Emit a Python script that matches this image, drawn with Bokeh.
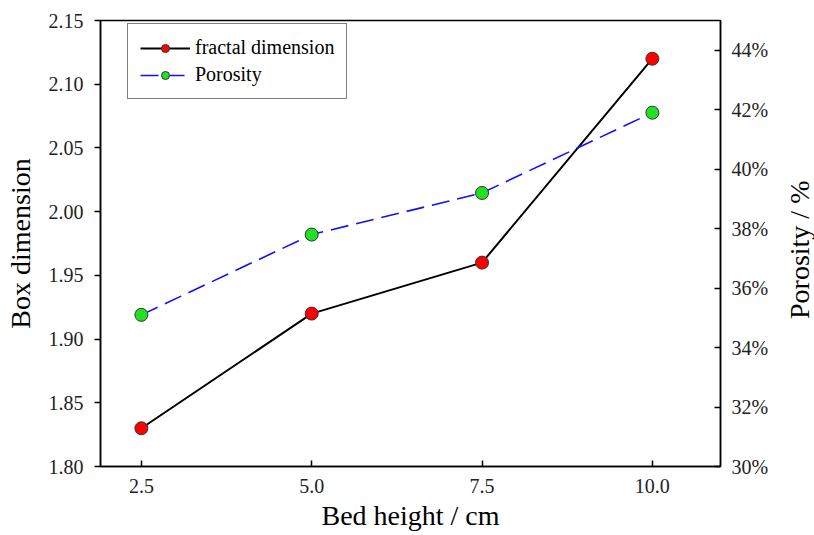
from bokeh.plotting import figure
from bokeh.layouts import row
from bokeh.models import (Range1d, LinearAxis, FixedTicker, PrintfTickFormatter,
                          NumeralTickFormatter, Grid, Legend, LegendItem, Div)
from bokeh.embed import file_html
from bokeh.resources import INLINE

bed_height = [2.5, 5.0, 7.5, 10.0]
fractal_dim = [1.83, 1.92, 1.96, 2.12]
porosity = [35.1, 37.8, 39.2, 41.9]
x_ticks = [2.5, 5.0, 7.5, 10.0]
left_ticks = [1.80, 1.85, 1.90, 1.95, 2.00, 2.05, 2.10, 2.15]
right_ticks = [30, 32, 34, 36, 38, 40, 42, 44]

FONT = "Liberation Serif"

p = figure(width=786, height=535, output_backend="svg", toolbar_location=None,
           x_range=Range1d(1.9, 11.0), y_range=Range1d(1.80, 2.15),
           min_border_left=100, min_border_right=66, min_border_top=20,
           min_border_bottom=69, background_fill_color="white",
           border_fill_color="white", margin=0)
p.outline_line_color = "black"
p.outline_line_width = 1.5
p.extra_y_ranges = {"poro": Range1d(30, 45)}

p.xgrid.visible = False
p.ygrid.visible = False

# bottom axis
xa = p.xaxis[0]
xa.ticker = FixedTicker(ticks=x_ticks)
xa.formatter = NumeralTickFormatter(format="0.0")
xa.axis_label = "Bed height / cm"
xa.major_tick_in = 6
xa.major_tick_out = 0
xa.minor_tick_line_color = None

# left axis
ya = p.yaxis[0]
ya.ticker = FixedTicker(ticks=left_ticks)
ya.formatter = NumeralTickFormatter(format="0.00")
ya.axis_label = "Box dimension"
ya.major_tick_in = 0
ya.major_tick_out = 6
ya.minor_tick_line_color = None

# right axis
ra = LinearAxis(y_range_name="poro", ticker=FixedTicker(ticks=right_ticks),
                formatter=PrintfTickFormatter(format="%d%%"))
ra.major_tick_in = 6
ra.major_tick_out = 0
ra.minor_tick_line_color = None
p.add_layout(ra, "right")

for ax in (xa, ya, ra):
    ax.axis_line_width = 1.5
    ax.axis_line_color = "black"
    ax.major_tick_line_color = "black"
    ax.major_tick_line_width = 1.5
    ax.major_label_text_font = FONT
    ax.major_label_text_font_size = "20px"
    ax.major_label_text_color = "#222222"
    ax.axis_label_text_font = FONT
    ax.axis_label_text_font_size = "28px"
    ax.axis_label_text_font_style = "normal"
    ax.axis_label_text_color = "black"
xa.major_label_standoff = 12
xa.axis_label_standoff = 4
ya.major_label_standoff = 11
ya.axis_label_standoff = 10
ra.major_label_standoff = 11

grid = Grid(dimension=1, axis=ra, ticker=FixedTicker(ticks=right_ticks[1:]),
            grid_line_color="#c8c8c8", grid_line_width=1)
p.add_layout(grid)

l1 = p.line(bed_height, fractal_dim, line_color="black", line_width=2)
m1 = p.scatter(bed_height, fractal_dim, size=13, fill_color="red",
               line_color="#333333", line_width=1)
l2 = p.line(bed_height, porosity, y_range_name="poro", line_color="#1010ff",
            line_width=1.6, line_dash="18 8")
m2 = p.scatter(bed_height, porosity, y_range_name="poro", size=13,
               fill_color="#22e022", line_color="#333333", line_width=1)

legend = Legend(items=[LegendItem(label="fractal dimension", renderers=[l1, m1]),
                       LegendItem(label="Porosity", renderers=[l2, m2])],
                location=(27, 367))
legend.border_line_color = "black"
legend.border_line_width = 1.5
legend.background_fill_color = "white"
legend.background_fill_alpha = 1
legend.label_text_font = FONT
legend.label_text_font_size = "20px"
legend.label_text_color = "black"
legend.glyph_width = 50
legend.glyph_height = 20
legend.label_height = 20
legend.spacing = 4
legend.padding = 12
legend.margin = 0
p.add_layout(legend, "center")

# right-hand axis title, reading bottom-to-top
right_title = Div(text="Porosity / %", width=28, height=535, margin=0,
                  styles={"writing-mode": "vertical-rl",
                          "transform": "rotate(180deg)",
                          "text-align": "center",
                          "font-family": FONT, "font-size": "28px",
                          "line-height": "28px", "color": "black",
                          "background-color": "white",
                          "padding-top": "36px", "box-sizing": "border-box"})

layout = row(p, right_title, spacing=0)
open("out.html", "w").write(file_html(layout, INLINE))
